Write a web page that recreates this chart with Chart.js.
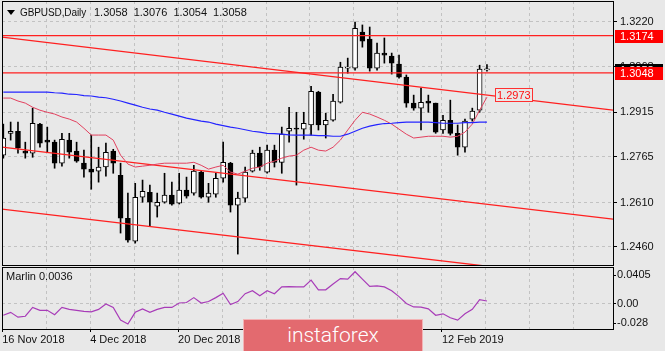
<!DOCTYPE html>
<html lang="en">
  <head>
    <meta charset="UTF-8" />
    <title>GBPUSD, Daily</title>
    <script src="https://cdn.jsdelivr.net/npm/chart.js"></script>
    <style>
      body {
        margin: 0;
        width: 665px;
        height: 351px;
        overflow: hidden;
        position: relative;
        background: #e8e8e8;
        font-family: "Liberation Sans", Arial, sans-serif;
      }
      canvas { position: absolute; left: 0; }
      #main { top: 0; }
      #sub { top: 266px; }
      .txt { position: absolute; font-size: 11px; line-height: 13px; color: #111; white-space: pre; }
      #tri {
        position: absolute; left: 7px; top: 10px; width: 0; height: 0;
        border-left: 4px solid transparent; border-right: 4px solid transparent;
        border-top: 5px solid #000;
      }
      #wm {
        position: absolute; left: 243px; top: 319px; width: 180px; height: 40px;
        box-sizing: border-box; background: #e36a6f; border: 1px solid #f3b3b5;
        color: #fff; font-family: Roboto, "Open Sans", sans-serif; font-size: 21px;
        font-weight: 300; text-align: center; line-height: 31px;
      }
    </style>
  </head>
  <body>
    <canvas id="main" width="665" height="266"></canvas>
    <canvas id="sub" width="665" height="85"></canvas>
    <div id="tri"></div>
    <div class="txt" id="title" style="left: 20px; top: 6px; font-size: 10px; letter-spacing: -0.1px"></div>
    <div class="txt" id="values" style="left: 94px; top: 6px; word-spacing: 3px"></div>
    <div class="txt" id="marlinLabel" style="left: 6px; top: 270px"></div>
    <div id="wm">instaforex</div>

    <script>
      // daily bars, 16 Nov 2018 .. 20 Feb 2019
      const open = [
        1.2770, 1.2844, 1.2851, 1.2784, 1.2777, 1.2875, 1.2821, 1.2814, 1.2743, 1.2821,
        1.2784, 1.2743, 1.2723, 1.2716, 1.2730, 1.2784, 1.2702, 1.2557, 1.2480, 1.2628,
        1.2645, 1.2598, 1.2611, 1.2635, 1.2608, 1.2652, 1.2642, 1.2713, 1.2628, 1.2638,
        1.2692, 1.2743, 1.2601, 1.2625, 1.2716, 1.2777, 1.2713, 1.2787, 1.2746, 1.2851,
        1.2861, 1.2858, 1.2872, 1.2983, 1.2872, 1.2888, 1.2949, 1.3064, 1.3064, 1.3186,
        1.3162, 1.3064, 1.3115, 1.3105, 1.3078, 1.3034, 1.2946, 1.2929, 1.2953, 1.2946,
        1.2855, 1.2888, 1.2844, 1.2797, 1.2892, 1.2922, 1.3058,
      ];
      const high = [
        1.2875, 1.2882, 1.2882, 1.2814, 1.2929, 1.2878, 1.2865, 1.2821, 1.2844, 1.2844,
        1.2814, 1.2787, 1.2838, 1.2797, 1.2811, 1.2790, 1.2743, 1.2642, 1.2675, 1.2686,
        1.2669, 1.2642, 1.2709, 1.2679, 1.2709, 1.2696, 1.2736, 1.2716, 1.2675, 1.2709,
        1.2814, 1.2746, 1.2645, 1.2730, 1.2787, 1.2797, 1.2804, 1.2804, 1.2865, 1.2932,
        1.2915, 1.2915, 1.3003, 1.2986, 1.2912, 1.2976, 1.3084, 1.3098, 1.3220, 1.3210,
        1.3203, 1.3149, 1.3166, 1.3115, 1.3108, 1.3041, 1.2973, 1.2997, 1.2973, 1.2946,
        1.2905, 1.2956, 1.2872, 1.2892, 1.2929, 1.3074, 1.3076,
      ];
      const low = [
        1.2760, 1.2821, 1.2777, 1.2760, 1.2763, 1.2797, 1.2780, 1.2726, 1.2733, 1.2760,
        1.2746, 1.2696, 1.2655, 1.2679, 1.2699, 1.2709, 1.2507, 1.2476, 1.2473, 1.2611,
        1.2530, 1.2561, 1.2608, 1.2601, 1.2605, 1.2625, 1.2635, 1.2625, 1.2611, 1.2628,
        1.2679, 1.2578, 1.2436, 1.2611, 1.2713, 1.2719, 1.2709, 1.2730, 1.2709, 1.2814,
        1.2669, 1.2824, 1.2838, 1.2855, 1.2828, 1.2885, 1.2946, 1.3047, 1.3057, 1.3135,
        1.3054, 1.3057, 1.3081, 1.3044, 1.3030, 1.2932, 1.2922, 1.2855, 1.2915, 1.2844,
        1.2844, 1.2838, 1.2770, 1.2780, 1.2885, 1.2915, 1.3054,
      ];
      const close = [
        1.2828, 1.2851, 1.2794, 1.2777, 1.2878, 1.2811, 1.2814, 1.2743, 1.2824, 1.2780,
        1.2750, 1.2723, 1.2713, 1.2730, 1.2780, 1.2743, 1.2557, 1.2483, 1.2628, 1.2648,
        1.2611, 1.2611, 1.2635, 1.2605, 1.2652, 1.2632, 1.2716, 1.2628, 1.2642, 1.2692,
        1.2746, 1.2601, 1.2625, 1.2713, 1.2777, 1.2730, 1.2787, 1.2746, 1.2841, 1.2861,
        1.2858, 1.2878, 1.2986, 1.2872, 1.2888, 1.2953, 1.3068, 1.3068, 1.3199, 1.3155,
        1.3064, 1.3115, 1.3108, 1.3081, 1.3034, 1.2946, 1.2929, 1.2949, 1.2946, 1.2848,
        1.2888, 1.2844, 1.2797, 1.2885, 1.2919, 1.3061, 1.3058,
      ];

      // moving averages
      const maBlue = [
        1.2983, 1.2983, 1.2983, 1.2983, 1.2983, 1.2983, 1.2983, 1.2981, 1.2980, 1.2976,
        1.2975, 1.2971, 1.2970, 1.2966, 1.2964, 1.2959, 1.2953, 1.2946, 1.2939, 1.2932,
        1.2926, 1.2922, 1.2915, 1.2909, 1.2902, 1.2895, 1.2890, 1.2885, 1.2882, 1.2875,
        1.2870, 1.2865, 1.2861, 1.2856, 1.2851, 1.2848, 1.2844, 1.2843, 1.2841, 1.2839,
        1.2838, 1.2838, 1.2838, 1.2836, 1.2836, 1.2834, 1.2834, 1.2841, 1.2851, 1.2861,
        1.2868, 1.2873, 1.2877, 1.2878, 1.2880, 1.2882, 1.2882, 1.2882, 1.2882, 1.2880,
        1.2878, 1.2878, 1.2878, 1.2880, 1.2880, 1.2882, 1.2882,
      ];
      const maRed = [
        1.2963, 1.2963, 1.2953, 1.2946, 1.2932, 1.2922, 1.2915, 1.2909, 1.2899, 1.2892,
        1.2882, 1.2861, 1.2838, 1.2838, 1.2838, 1.2821, 1.2770, 1.2740, 1.2730, 1.2733,
        1.2736, 1.2740, 1.2743, 1.2743, 1.2743, 1.2743, 1.2746, 1.2736, 1.2723, 1.2730,
        1.2736, 1.2713, 1.2706, 1.2716, 1.2726, 1.2730, 1.2743, 1.2750, 1.2760, 1.2767,
        1.2770, 1.2787, 1.2797, 1.2787, 1.2784, 1.2797, 1.2821, 1.2855, 1.2888, 1.2915,
        1.2909, 1.2899, 1.2888, 1.2875, 1.2858, 1.2841, 1.2828, 1.2831, 1.2834, 1.2834,
        1.2834, 1.2831, 1.2834, 1.2848, 1.2875, 1.2922, 1.2966,
      ];

      // Marlin oscillator
      const marlin = [
        -0.0168, -0.0126, -0.0196, -0.0182, -0.0056, -0.0098, -0.0098, -0.0161, -0.0056, -0.0084,
        -0.0098, -0.0112, -0.0119, -0.0084, -0.0007, -0.0056, -0.0237, -0.0293, -0.0126, -0.0077,
        -0.0126, -0.0084, -0.0056, -0.0056, 0.0007, 0.0014, 0.0084, 0.0007, 0.0028, 0.0084,
        0.0147, -0.0014, 0.0028, 0.0140, 0.0182, 0.0112, 0.0182, 0.0140, 0.0237, 0.0242,
        0.0237, 0.0237, 0.0335, 0.0196, 0.0196, 0.0279, 0.0356, 0.0349, 0.0454, 0.0349,
        0.0244, 0.0251, 0.0237, 0.0182, 0.0098, 0.0000, -0.0049, -0.0052, -0.0077, -0.0168,
        -0.0147, -0.0203, -0.0237, -0.0147, -0.0084, 0.0056, 0.0036,
      ];

      const dateLabels = ["16 Nov 2018", "4 Dec 2018", "20 Dec 2018", "9 Jan 2019", "24 Jan 2019", "12 Feb 2019"];
      const priceTicks = [1.322, 1.3068, 1.2915, 1.2765, 1.261, 1.246];
      const marlinTicks = [0.0405, 0, -0.028];
      const marlinTickLabels = ["0.0405", "0.00", "-0.028"];

      // drawn objects
      const levels = [1.3174, 1.3048];
      const trendX = [-0.18, 83.2];
      const trendUpper = [1.3169, 1.2922];
      const trendMiddle = [1.2797, 1.2554];
      const trendLower = [1.2588, 1.2345];
      const trendLabel = 1.2973;

      const xMin = -0.18, xMax = 83.2;
      const gridStep = 6;
      const gridX = [];
      for (let v = -0.15; v < xMax; v += gridStep) gridX.push(v);

      const bg = "#e8e8e8";
      const gridColor = "#c2c2c2";
      Chart.defaults.font.family = "'Liberation Sans', Arial, sans-serif";
      Chart.defaults.font.size = 11;
      Chart.defaults.color = "#111";

      const last = close.length - 1;
      document.getElementById("title").textContent = "GBPUSD,Daily";
      document.getElementById("values").textContent =
        [open[last], high[last], low[last], close[last]].map((v) => v.toFixed(4)).join(" ");
      document.getElementById("marlinLabel").textContent = "Marlin " + marlin[last].toFixed(4);

      // keep chart area exactly where the layout padding puts it
      const noPad = (s) => {
        s.paddingTop = 0;
        s.paddingBottom = 0;
        s.paddingLeft = 0;
        s.paddingRight = 0;
      };

      const frame = {
        id: "frame",
        afterDraw(chart) {
          const { ctx, chartArea: a } = chart;
          ctx.save();
          ctx.strokeStyle = "#000";
          ctx.lineWidth = 1;
          ctx.strokeRect(a.left + 0.5, a.top + 0.5, a.right - a.left, a.bottom - a.top);
          ctx.restore();
        },
      };

      const priceBoxes = {
        id: "priceBoxes",
        afterDraw(chart) {
          const { ctx, chartArea: a, scales } = chart;
          ctx.save();
          ctx.font = "11px 'Liberation Sans', Arial, sans-serif";
          ctx.textBaseline = "middle";
          const box = (v, fill) => {
            const py = Math.round(scales.y.getPixelForValue(v));
            ctx.fillStyle = fill;
            ctx.fillRect(a.right + 2, py - 6, 48, 13);
            ctx.fillStyle = "#fff";
            ctx.fillText(v.toFixed(4), a.right + 7, py + 1);
          };
          box(close[last], "#000");
          levels.forEach((v) => box(v, "#ff0000"));

          const lx = Math.round(scales.x.getPixelForValue(last)) + 8;
          const ly = Math.round(scales.y.getPixelForValue(trendLabel));
          ctx.fillStyle = bg;
          ctx.fillRect(lx, ly - 6, 37, 13);
          ctx.strokeStyle = "#ff3030";
          ctx.strokeRect(lx + 0.5, ly - 6.5, 37, 13);
          ctx.fillStyle = "#ff1010";
          ctx.fillText(trendLabel.toFixed(4), lx + 2, ly + 1);
          ctx.restore();
        },
      };

      const line = (pts, color, width) => ({
        type: "line",
        data: pts,
        borderColor: color,
        borderWidth: width,
        pointRadius: 0,
        tension: 0,
        fill: false,
        order: 0,
      });
      const twoPoints = (ys) => trendX.map((x, i) => ({ x: x, y: ys[i] }));

      const mainData = {
        datasets: [
          {
            label: "wicks",
            data: close.map((c, i) => ({ x: i, y: [low[i], high[i]] })),
            backgroundColor: "#000",
            borderWidth: 0,
            barThickness: 1,
            grouped: false,
            clip: 0,
            order: 2,
          },
          {
            label: "bodies",
            data: close.map((c, i) => ({ x: i, y: [open[i], c] })),
            backgroundColor: close.map((c, i) => (c >= open[i] ? "#fff" : "#000")),
            borderColor: "#000",
            borderWidth: 1,
            borderSkipped: false,
            minBarLength: 1,
            barThickness: 5,
            grouped: false,
            clip: 0,
            order: 1,
          },
          line(maBlue.map((v, i) => ({ x: i, y: v })), "#2424ff", 1.2),
          line(maRed.map((v, i) => ({ x: i, y: v })), "#e2405e", 1),
          line(twoPoints([levels[0], levels[0]]), "#ff2020", 1.3),
          line(twoPoints([levels[1], levels[1]]), "#ff2020", 1.3),
          line(twoPoints(trendUpper), "#ff2020", 1.3),
          line(twoPoints(trendMiddle), "#ff2020", 1.3),
          line(twoPoints(trendLower), "#ff2020", 1.3),
        ],
      };

      new Chart(document.getElementById("main"), {
        type: "bar",
        data: mainData,
        options: {
          responsive: false,
          animation: false,
          events: [],
          layout: { padding: { left: 2, top: 1, right: 0, bottom: 1 } },
          plugins: { legend: { display: false }, tooltip: { enabled: false } },
          scales: {
            x: {
              type: "linear",
              min: xMin,
              max: xMax,
              offset: false,
              afterBuildTicks: (s) => { s.ticks = gridX.map((v) => ({ value: v })); },
              afterFit: (s) => { s.height = 0; noPad(s); },
              ticks: { display: false },
              grid: { color: gridColor, offset: false, drawTicks: false },
              border: { display: false, dash: [3, 3] },
            },
            y: {
              type: "linear",
              position: "right",
              min: 1.23991,
              max: 1.32909,
              afterBuildTicks: (s) => { s.ticks = priceTicks.map((v) => ({ value: v })); },
              afterFit: (s) => { s.width = 52; noPad(s); },
              ticks: { callback: (v) => v.toFixed(4), padding: 3, color: "#111" },
              grid: { color: gridColor, tickColor: "#000", tickLength: 4 },
              border: { display: false, dash: [3, 3] },
            },
          },
        },
        plugins: [frame, priceBoxes],
      });

      new Chart(document.getElementById("sub"), {
        type: "line",
        data: {
          datasets: [
            {
              data: marlin.map((v, i) => ({ x: i, y: v })),
              borderColor: "#a83cb8",
              borderWidth: 1.2,
              pointRadius: 0,
              tension: 0,
              fill: false,
            },
          ],
        },
        options: {
          responsive: false,
          animation: false,
          events: [],
          layout: { padding: { left: 2, top: 1, right: 0, bottom: 0 } },
          plugins: { legend: { display: false }, tooltip: { enabled: false } },
          scales: {
            x: {
              type: "linear",
              min: xMin,
              max: xMax,
              offset: false,
              afterBuildTicks: (s) => { s.ticks = gridX.map((v) => ({ value: v })); },
              afterFit: (s) => { s.height = 22; noPad(s); },
              ticks: {
                autoSkip: false,
                maxRotation: 0,
                align: "start",
                padding: 1,
                color: "#111",
                callback: (v, i) => (i % 2 === 0 && dateLabels[i / 2]) || "",
              },
              grid: {
                color: gridColor,
                offset: false,
                tickLength: 3,
                tickColor: (c) => (c.index % 2 === 0 && dateLabels[c.index / 2] ? "#000" : "rgba(0,0,0,0)"),
              },
              border: { display: false, dash: [3, 3] },
            },
            y: {
              type: "linear",
              position: "right",
              min: -0.03643,
              max: 0.05214,
              afterBuildTicks: (s) => { s.ticks = marlinTicks.map((v) => ({ value: v })); },
              afterFit: (s) => { s.width = 52; noPad(s); },
              ticks: { callback: (v, i) => marlinTickLabels[i], padding: 1, color: "#111" },
              grid: {
                color: (c) => (c.tick && c.tick.value === 0 ? gridColor : "rgba(0,0,0,0)"),
                tickColor: "#000",
                tickLength: 3,
              },
              border: { display: false, dash: [3, 3] },
            },
          },
        },
        plugins: [frame],
      });
    </script>
  </body>
</html>
